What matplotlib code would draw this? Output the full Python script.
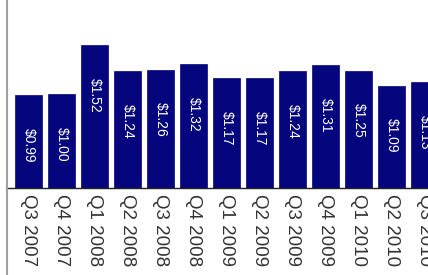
import matplotlib
matplotlib.use("Agg")
import matplotlib.pyplot as plt
from matplotlib.lines import Line2D

quarters = ["Q3 2007", "Q4 2007", "Q1 2008", "Q2 2008", "Q3 2008", "Q4 2008",
            "Q1 2009", "Q2 2009", "Q3 2009", "Q4 2009", "Q1 2010", "Q2 2010", "Q3 2010"]
values = [0.99, 1.00, 1.52, 1.24, 1.26, 1.32, 1.17, 1.17, 1.24, 1.31, 1.25, 1.09, 1.13]
labels = ["$0.99", "$1.00", "$1.52", "$1.24", "$1.26", "$1.32", "$1.17", "$1.17",
          "$1.24", "$1.31", "$1.25", "$1.09", "$1.13"]

plt.rcParams['font.family'] = ['Liberation Sans', 'DejaVu Sans']

W, H = 428, 275
fig = plt.figure(figsize=(W / 100, H / 100), dpi=100)
ax = fig.add_axes([6 / W, (H - 188) / H, (W - 6) / W, 188 / H])

x = list(range(len(values)))
ax.bar(x, values, width=0.82, color='#05057e', edgecolor='#05057e', linewidth=0.5, zorder=2)

for xi, v, lab in zip(x, values, labels):
    ax.text(xi, v - 0.35, lab, rotation=-90, ha='center', va='top',
            color='white', fontsize=10, zorder=3)

ax.set_xlim(-0.68, 12.106)
ax.set_ylim(0, 2.0)
ax.set_xticks(x)
ax.set_xticklabels(quarters, rotation=-90, fontsize=13.5, color='#333333')
ax.tick_params(axis='x', length=0, pad=4)
ax.set_yticks([])
for s in ['top', 'right', 'left']:
    ax.spines[s].set_visible(False)
ax.spines['bottom'].set_color('#222222')
ax.spines['bottom'].set_linewidth(1.0)
ax.patch.set_alpha(0)

fig.add_artist(Line2D([6.5 / W, 6.5 / W], [0, 1], transform=fig.transFigure,
                      color='#a0a0a0', linewidth=1.5))

fig.savefig("out.png", dpi=100)
